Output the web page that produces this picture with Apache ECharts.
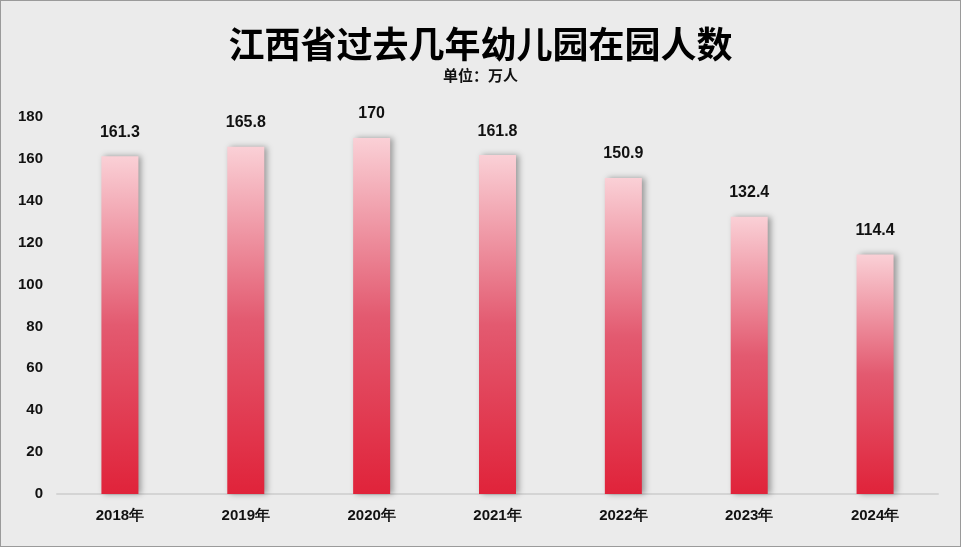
<!DOCTYPE html>
<html><head><meta charset="utf-8">
<script src="https://cdn.jsdelivr.net/npm/echarts@6/dist/echarts.min.js"></script>
<style>html,body{margin:0;padding:0;background:#ebebeb}#main{width:961px;height:547px;box-sizing:border-box;border:1px solid #9a9a9a}</style>
</head><body><div id="main"></div>
<script>
var years = ['2018年', '2019年', '2020年', '2021年', '2022年', '2023年', '2024年'];
var values = [161.3, 165.8, 170, 161.8, 150.9, 132.4, 114.4];

var myChart = echarts.init(document.getElementById('main'));
var option = {
    backgroundColor: '#ebebeb',
    title: {
        text: '江西省过去几年幼儿园在园人数',
        subtext: '单位：万人',
        left: 'center',
        top: 20,
        itemGap: 6,
        textStyle: { fontSize: 36, fontWeight: 'bold', color: '#000', fontFamily: 'Noto Sans CJK SC' },
        subtextStyle: { fontSize: 15, fontWeight: 'bold', color: '#111', fontFamily: 'Noto Sans CJK SC' }
    },
    grid: { left: 56, right: 22, top: 116, bottom: 52 },
    xAxis: {
        type: 'category',
        data: years,
        axisTick: { show: false },
        axisLine: { lineStyle: { color: '#d4d4d4', width: 2 } },
        axisLabel: { color: '#111', fontSize: 15, fontWeight: 'bold', margin: 14 }
    },
    yAxis: {
        type: 'value',
        min: 0, max: 180, interval: 20,
        splitLine: { show: false },
        axisLabel: { color: '#111', fontSize: 15, fontWeight: 'bold', margin: 14 }
    },
    series: [{
        type: 'bar',
        data: values,
        barWidth: 37,
        label: { show: true, position: 'top', distance: 16, color: '#111', fontSize: 16, fontWeight: 'bold' },
        itemStyle: {
            shadowColor: 'rgba(0,0,0,0.35)', shadowBlur: 6, shadowOffsetX: 3,
            color: new echarts.graphic.LinearGradient(0, 0, 0, 1, [
                { offset: 0, color: '#fad0d6' },
                { offset: 0.5, color: '#e35a70' },
                { offset: 1, color: '#e0233a' }
            ])
        }
    }]
};
myChart.setOption(option);
</script></body></html>
